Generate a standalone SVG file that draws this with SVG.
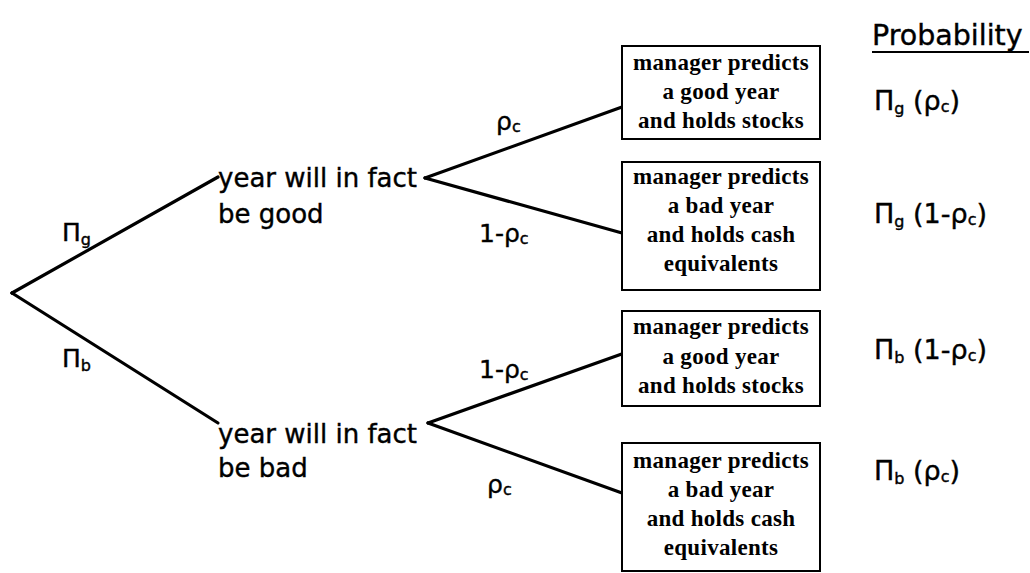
<svg xmlns="http://www.w3.org/2000/svg" width="1030" height="573" viewBox="0 0 1030 573">
<style>
.br{stroke:#000;stroke-width:3.2;fill:none;stroke-linecap:round}
.bx{fill:#fff;stroke:#000;stroke-width:2}
.bt{font-family:"Liberation Serif","DejaVu Serif",serif;font-weight:bold;font-size:23px;letter-spacing:0.3px;text-anchor:middle;fill:#000}
.lb{font-family:"DejaVu Sans","Liberation Sans",sans-serif;font-size:26px;fill:#000;stroke:#000;stroke-width:0.4}
.gl{font-family:"DejaVu Sans","Liberation Sans",sans-serif;font-size:25px;fill:#000;stroke:#000;stroke-width:0.4}
.pc{font-family:"DejaVu Sans","Liberation Sans",sans-serif;font-size:27px;fill:#000;stroke:#000;stroke-width:0.4}
.sb{font-size:16px}
</style>
<g id="connectors">
<line class="br" x1="12" y1="293" x2="218" y2="177"/>
<line class="br" x1="12" y1="293" x2="218" y2="423"/>
<line class="br" x1="425" y1="178" x2="622" y2="107"/>
<line class="br" x1="425" y1="178" x2="622" y2="233"/>
<line class="br" x1="428" y1="423" x2="633" y2="350"/>
<circle cx="633" cy="350" r="3.2" fill="#000"/>
<line class="br" x1="428" y1="423" x2="622" y2="493"/>
</g>
<g id="edge-labels">
<text class="gl" x="62" y="241">Π<tspan class="sb" dy="4">g</tspan></text>
<text class="gl" x="62" y="367">Π<tspan class="sb" dy="4">b</tspan></text>
<text class="gl" x="496" y="130">ρ<tspan class="sb" dy="2">c</tspan></text>
<text class="gl" x="479" y="242">1-ρ<tspan class="sb" dy="2">c</tspan></text>
<text class="gl" x="479" y="378">1-ρ<tspan class="sb" dy="2">c</tspan></text>
<text class="gl" x="487" y="493">ρ<tspan class="sb" dy="2">c</tspan></text>
</g>
<g id="node-root"><circle cx="12" cy="293" r="1.6" fill="#000"/></g>
<g id="node-good">
<text class="lb" x="218" y="187">year will in fact</text>
<text class="lb" x="218" y="223">be good</text>
</g>
<g id="node-bad">
<text class="lb" x="218" y="443">year will in fact</text>
<text class="lb" x="218" y="477">be bad</text>
</g>
<g id="box-1">
<rect class="bx" x="622" y="46" width="198" height="93"/>
<text class="bt" x="721" y="70">manager predicts</text>
<text class="bt" x="721" y="99">a good year</text>
<text class="bt" x="721" y="128">and holds stocks</text>
</g>
<g id="box-2">
<rect class="bx" x="622" y="162" width="198" height="128"/>
<text class="bt" x="721" y="184">manager predicts</text>
<text class="bt" x="721" y="213">a bad year</text>
<text class="bt" x="721" y="242">and holds cash</text>
<text class="bt" x="721" y="271">equivalents</text>
</g>
<g id="box-3">
<rect class="bx" x="622" y="311" width="198" height="95"/>
<text class="bt" x="721" y="334">manager predicts</text>
<text class="bt" x="721" y="364">a good year</text>
<text class="bt" x="721" y="393">and holds stocks</text>
</g>
<g id="box-4">
<rect class="bx" x="622" y="443" width="198" height="128"/>
<text class="bt" x="721" y="468">manager predicts</text>
<text class="bt" x="721" y="497">a bad year</text>
<text class="bt" x="721" y="526">and holds cash</text>
<text class="bt" x="721" y="555">equivalents</text>
</g>
<g id="probability">
<text class="pc" x="872" y="45" style="font-size:28.5px">Probability</text>
<line x1="872" y1="52" x2="1029" y2="52" stroke="#000" stroke-width="2"/>
<text class="pc" x="874" y="110">Π<tspan class="sb" dy="4">g</tspan><tspan dy="-4"> (ρ</tspan><tspan class="sb" dy="2">c</tspan><tspan dy="-2">)</tspan></text>
<text class="pc" x="874" y="223">Π<tspan class="sb" dy="4">g</tspan><tspan dy="-4"> (1-ρ</tspan><tspan class="sb" dy="2">c</tspan><tspan dy="-2">)</tspan></text>
<text class="pc" x="874" y="359">Π<tspan class="sb" dy="4">b</tspan><tspan dy="-4"> (1-ρ</tspan><tspan class="sb" dy="2">c</tspan><tspan dy="-2">)</tspan></text>
<text class="pc" x="874" y="480">Π<tspan class="sb" dy="4">b</tspan><tspan dy="-4"> (ρ</tspan><tspan class="sb" dy="2">c</tspan><tspan dy="-2">)</tspan></text>
</g>
</svg>
